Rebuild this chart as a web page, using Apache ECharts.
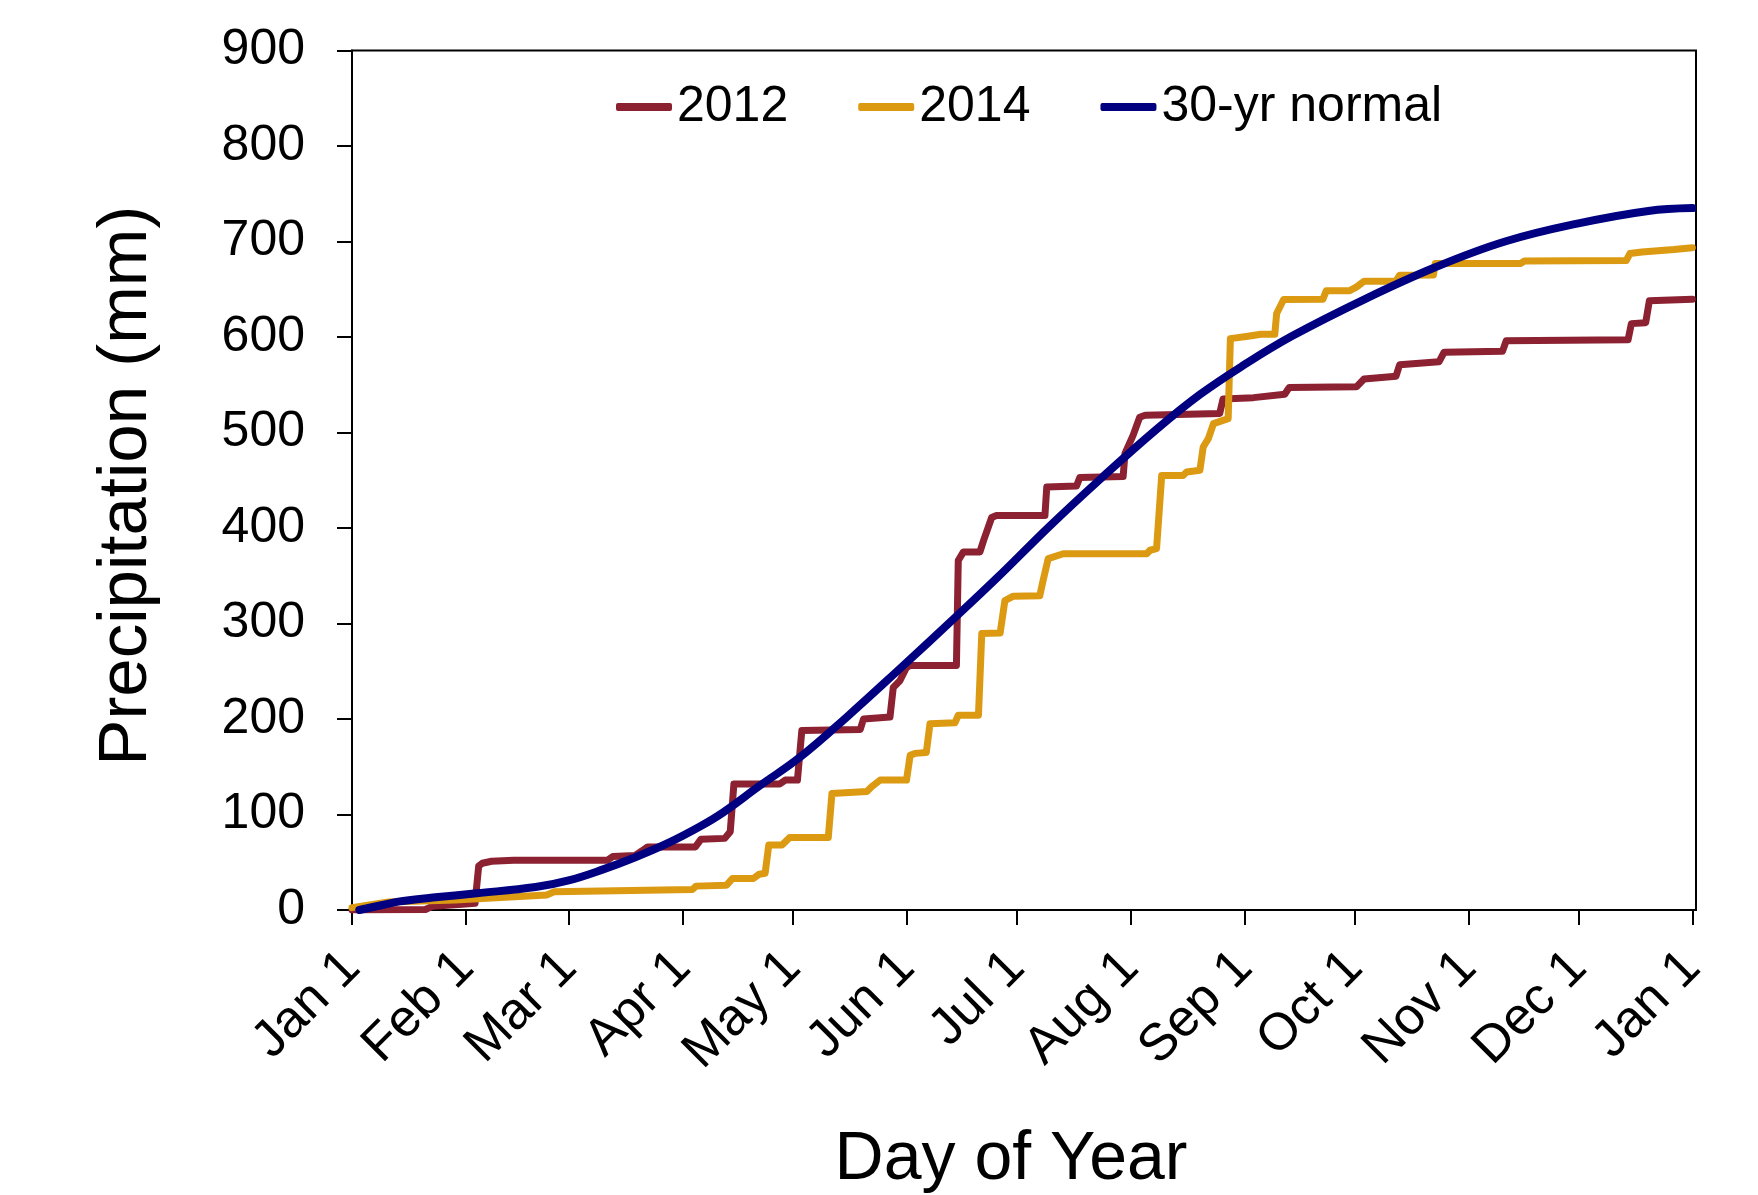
<!DOCTYPE html>
<html>
<head>
<meta charset="utf-8">
<script src="https://cdn.jsdelivr.net/npm/echarts@6/dist/echarts.min.js"></script>
<style>
  html, body { margin: 0; padding: 0; background: #fff; }
  #main { width: 1758px; height: 1195px; }
</style>
</head>
<body>
<div id="main"></div>
<script>
// month starts (day of year) and their tick labels
var monthDays = [0, 31, 59, 90, 120, 151, 181, 212, 243, 273, 304, 334, 365];
var monthLabels = ['Jan 1', 'Feb 1', 'Mar 1', 'Apr 1', 'May 1', 'Jun 1', 'Jul 1',
  'Aug 1', 'Sep 1', 'Oct 1', 'Nov 1', 'Dec 1', 'Jan 1'];

// cumulative precipitation, [day, mm]
var precip2012 = [
  [0, 0], [20, 0.5], [22, 4], [30, 6], [33.5, 7], [34.5, 46], [35.5, 49], [38, 51], [44, 52],
  [69.5, 52], [71, 56], [77, 57], [79, 62], [80.5, 66], [93.5, 66], [95, 74], [101.5, 75],
  [103, 82], [104, 132], [116.5, 132], [118, 136], [121.3, 136], [122.5, 188], [138.4, 189],
  [139.3, 200], [146.5, 202], [147.4, 233], [149.2, 240], [151, 254], [152, 256], [164.6, 256],
  [165.1, 366], [166.5, 375], [171, 375], [172, 387], [174.2, 411], [175.5, 413], [188.7, 413],
  [189.2, 443], [197.3, 444], [198.2, 453], [210, 454], [210.5, 478], [212.7, 497], [214.5, 516],
  [216, 518], [236.3, 520], [237.2, 535], [245.5, 536.5], [254, 540], [255.2, 547], [273.6, 548],
  [275.6, 556], [284.3, 559], [285.3, 571], [296, 574], [297.4, 584], [313.3, 585], [314.3, 596],
  [347.5, 597], [348.4, 614], [352.3, 615], [353.3, 638], [365, 639.5]
];
var precip2014 = [
  [0, 2.5], [10, 8.5], [28, 10.5], [53, 15.7], [55, 19], [76, 20.5], [92.7, 21.5], [93.7, 25],
  [102, 26], [103.6, 33], [109.3, 33], [110.9, 37.5], [112.5, 38.5], [113.5, 68], [117.1, 68],
  [119.2, 76], [129.7, 76], [130.7, 122], [140.2, 124], [141.5, 129], [143.8, 136], [151, 136],
  [152, 162], [153.3, 164], [156.4, 165], [157.4, 195], [164.2, 196], [165.1, 204], [170.6, 204],
  [171.5, 289.5], [176.5, 290], [177.8, 324], [180.1, 328.6], [187.3, 329], [188.2, 345],
  [189.6, 368], [193.7, 373], [216.4, 373], [217.3, 376.7], [219.1, 378.5], [220.5, 455],
  [226.3, 455], [227.3, 458.7], [230.9, 460.4], [231.8, 484.8], [233.2, 493.6], [234.6, 509.3],
  [238.6, 514.5], [239.2, 598.3], [244, 600.8], [247.5, 602.9], [251.3, 603], [251.8, 624.6],
  [253.7, 639.3], [264.4, 639.5], [265.3, 648.3], [271.7, 648.5], [273.6, 652.5], [275.6, 658.4],
  [284.3, 658.5], [285.3, 664.7], [294.5, 665], [295, 676.9], [318.3, 677], [319.3, 679.7],
  [347, 680], [348, 687.4], [351.3, 689.1], [360, 691.6], [360.5, 693.3], [365, 693.5]
];
var normal30 = [
  [2, 0], [8, 5], [13, 9], [22, 13], [34, 17.5], [50, 24], [59, 31], [68, 42], [77, 55],
  [86, 70], [95, 88], [101, 102], [111, 130], [122, 160], [135, 203], [149, 252], [165, 309],
  [176, 349], [190, 402], [204, 452], [219, 503], [231, 540], [243, 571], [256, 601], [276, 640],
  [295, 673], [314, 700], [334, 719], [353, 732], [365, 735]
];

var FONT = 'Liberation Sans, Arial, sans-serif';

var chart = echarts.init(document.getElementById('main'));
chart.setOption({
  animation: false,
  backgroundColor: '#fff',
  grid: {
    left: 352, right: 62, top: 50.5, bottom: 285,
    outerBoundsMode: 'none', containLabel: false,
    show: true, borderColor: '#000', borderWidth: 2
  },
  legend: {
    left: 611, top: 77,
    itemWidth: 56, itemHeight: 8, itemGap: 70,
    icon: 'roundRect',
    textStyle: { fontSize: 50, color: '#000', fontFamily: FONT },
    data: ['2012', '2014', '30-yr normal']
  },
  xAxis: {
    type: 'value', min: 0, max: 366,
    name: 'Day of Year', nameLocation: 'middle', nameGap: 216, nameMoveOverlap: false,
    nameTextStyle: { fontSize: 68, color: '#000', fontFamily: FONT, padding: [0, 26, 0, 0] },
    axisLine: { show: true, lineStyle: { color: '#000', width: 2 } },
    axisTick: { show: true, length: 15, customValues: monthDays, lineStyle: { color: '#000', width: 2 } },
    axisLabel: {
      customValues: monthDays, rotate: 45, margin: 50,
      fontSize: 52, color: '#000', fontFamily: FONT,
      formatter: function (v) { return monthLabels[monthDays.indexOf(v)]; }
    },
    splitLine: { show: false }
  },
  yAxis: {
    type: 'value', min: 0, max: 900, interval: 100,
    name: 'Precipitation (mm)', nameLocation: 'middle', nameGap: 191, nameMoveOverlap: false,
    nameTextStyle: { fontSize: 69, color: '#000', fontFamily: FONT, padding: [0, 11, 0, 0] },
    axisLine: { show: true, lineStyle: { color: '#000', width: 2 } },
    axisTick: { show: true, length: 15, lineStyle: { color: '#000', width: 2 } },
    axisLabel: { margin: 47, fontSize: 50, color: '#000', fontFamily: FONT },
    splitLine: { show: false }
  },
  series: [
    {
      name: '2012', type: 'line', data: precip2012, showSymbol: false,
      color: '#8B2131',
      lineStyle: { width: 7, color: '#8B2131', cap: 'round', join: 'round' }
    },
    {
      name: '2014', type: 'line', data: precip2014, showSymbol: false,
      color: '#DB9A12',
      lineStyle: { width: 7, color: '#DB9A12', cap: 'round', join: 'round' }
    },
    {
      name: '30-yr normal', type: 'line', data: normal30, showSymbol: false, smooth: 0.4,
      color: '#000080',
      lineStyle: { width: 8, color: '#000080', cap: 'round', join: 'round' }
    }
  ]
});
</script>
</body>
</html>
